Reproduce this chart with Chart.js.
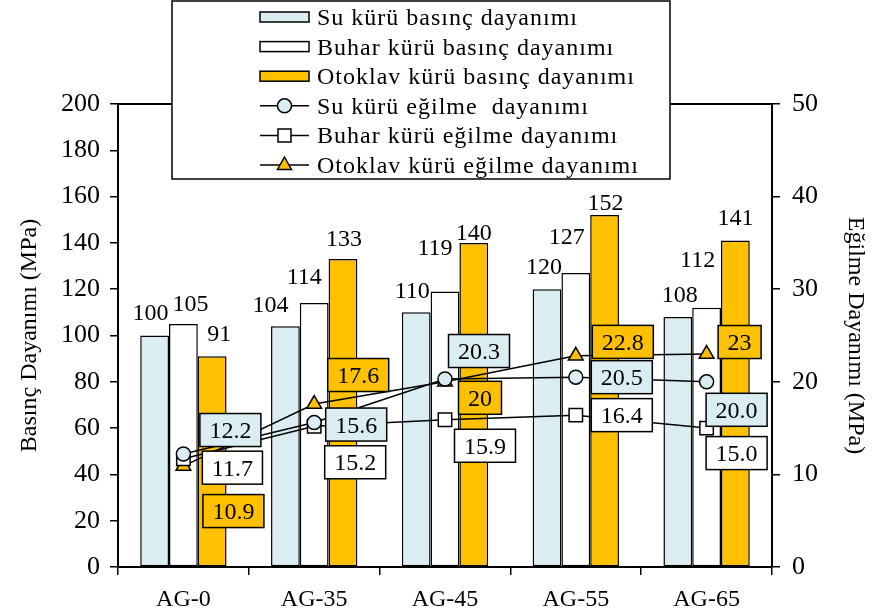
<!DOCTYPE html>
<html lang="tr">
<head>
    <meta charset="UTF-8">
    <title>Basınç ve Eğilme Dayanımı</title>
    <script src="https://cdn.jsdelivr.net/npm/chart.js"></script>
    <style>
        body {
            margin: 0;
            background: #ffffff;
        }
        .wrap {
            width: 872px;
            height: 615px;
        }
    </style>
</head>
<body>
    <div class="wrap">
        <canvas id="dayanimChart" width="872" height="615"></canvas>
    </div>

    <script>
        // values
        const categories = ['AG-0', 'AG-35', 'AG-45', 'AG-55', 'AG-65'];
        const suBasinc = [100, 104, 110, 120, 108];
        const buharBasinc = [105, 114, 119, 127, 112];
        const otoklavBasinc = [91, 133, 140, 152, 141];
        const suEgilme = [12.2, 15.6, 20.3, 20.5, 20.0];
        const buharEgilme = [11.7, 15.2, 15.9, 16.4, 15.0];
        const otoklavEgilme = [10.9, 17.6, 20, 22.8, 23];
        const basincTicks = [0, 20, 40, 60, 80, 100, 120, 140, 160, 180, 200];
        const egilmeTicks = [0, 10, 20, 30, 40, 50];

        const SERIF = '"Liberation Serif", "Times New Roman", serif';
        const BLUE = '#DAEDF3';
        const ORANGE = '#FFC000';

        // where the labels were moved to in the original (pixels from the mark)
        const barLabelShift = [
            [[-4, -24], [-15, -22], [-4, -22], [-3, -23], [2, -23]],
            [[7, -21], [-10, -27], [-10, -45], [-9, -37], [-9, -49]],
            [[7, -23], [1, -21], [0, -11], [1, -13], [0, -24]]
        ];
        const lineLabelShift = [
            [[47, -24], [42, 2], [34, -28], [46, 0], [30, 28]],
            [[49, 9], [41, 36], [40, 26], [46, 0], [30, 25]],
            [[50, 45], [44, -29], [35, 16], [47, -14], [33, -12]]
        ];

        function setTicks(list) {
            return function (scale) {
                scale.ticks = list.map(v => ({ value: v }));
            };
        }

        // draw one marker like the ones on the lines
        function marker(ctx, style, x, y, fill) {
            ctx.save();
            ctx.fillStyle = fill;
            ctx.strokeStyle = '#000';
            ctx.lineWidth = 1.5;
            ctx.beginPath();
            if (style === 'circle') {
                ctx.arc(x, y, 7, 0, Math.PI * 2);
            } else if (style === 'rect') {
                ctx.rect(x - 6.5, y - 6.5, 13, 13);
            } else {
                ctx.moveTo(x, y - 8);
                ctx.lineTo(x + 7, y + 4.5);
                ctx.lineTo(x - 7, y + 4.5);
                ctx.closePath();
            }
            ctx.fill();
            ctx.stroke();
            ctx.restore();
        }

        const labelPlugin = {
            id: 'valueLabels',
            afterDatasetsDraw(chart) {
                const ctx = chart.ctx;
                ctx.save();
                ctx.font = '24px ' + SERIF;
                ctx.textAlign = 'center';
                ctx.textBaseline = 'alphabetic';
                ctx.fillStyle = '#000';

                // bar values, plain text
                for (let d = 0; d < 3; d++) {
                    const meta = chart.getDatasetMeta(d);
                    const values = chart.data.datasets[d].data;
                    meta.data.forEach((bar, i) => {
                        const s = barLabelShift[d][i];
                        ctx.fillText(String(values[i]), bar.x + s[0], bar.y + s[1] + 8);
                    });
                }

                // line values, in boxes filled like the series
                for (let d = 3; d < 6; d++) {
                    const ds = chart.data.datasets[d];
                    const meta = chart.getDatasetMeta(d);
                    meta.data.forEach((pt, i) => {
                        const s = lineLabelShift[d - 3][i];
                        const txt = d === 5 ? String(ds.data[i]) : ds.data[i].toFixed(1);
                        const cx = pt.x + s[0], cy = pt.y + s[1];
                        const w = ctx.measureText(txt).width + 19;
                        const h = 33;
                        ctx.fillStyle = ds.boxColor;
                        ctx.fillRect(cx - w / 2, cy - h / 2, w, h);
                        ctx.strokeStyle = '#000';
                        ctx.lineWidth = 1.5;
                        ctx.strokeRect(cx - w / 2, cy - h / 2, w, h);
                        ctx.fillStyle = '#000';
                        ctx.fillText(txt, cx, cy + 8);
                    });
                }
                ctx.restore();
            },
            afterDraw(chart) {
                const ctx = chart.ctx;
                const area = chart.chartArea;
                ctx.save();

                // top edge of the plot frame
                ctx.strokeStyle = '#000';
                ctx.lineWidth = 2;
                ctx.beginPath();
                ctx.moveTo(area.left, area.top);
                ctx.lineTo(area.right, area.top);
                ctx.stroke();

                // legend box
                ctx.fillStyle = '#fff';
                ctx.fillRect(172, 1, 498, 178);
                ctx.lineWidth = 1.5;
                ctx.strokeRect(172, 1, 498, 178);

                ctx.font = '24px ' + SERIF;
                if ('letterSpacing' in ctx) ctx.letterSpacing = '1px';
                ctx.textAlign = 'left';
                ctx.textBaseline = 'alphabetic';
                chart.data.datasets.forEach((ds, i) => {
                    const cy = 17 + i * 29.6;
                    if (ds.type === 'bar') {
                        ctx.fillStyle = ds.backgroundColor;
                        ctx.fillRect(260, cy - 5, 49, 10);
                        ctx.strokeStyle = '#000';
                        ctx.lineWidth = 1.5;
                        ctx.strokeRect(260, cy - 5, 49, 10);
                    } else {
                        ctx.strokeStyle = '#000';
                        ctx.lineWidth = 1.5;
                        ctx.beginPath();
                        ctx.moveTo(260, cy);
                        ctx.lineTo(309, cy);
                        ctx.stroke();
                        marker(ctx, ds.pointStyle, 284.5, cy, ds.pointBackgroundColor);
                    }
                    ctx.fillStyle = '#000';
                    ctx.fillText(ds.label, 317, cy + 8);
                });
                ctx.restore();
            }
        };

        const barStyle = {
            type: 'bar',
            yAxisID: 'y',
            borderColor: '#000',
            borderWidth: 1.5,
            borderSkipped: false,
            categoryPercentage: 0.66,
            barPercentage: 1.0,
            order: 2
        };
        const lineStyle = {
            type: 'line',
            yAxisID: 'y1',
            borderColor: '#000',
            borderWidth: 1.5,
            pointBorderColor: '#000',
            pointBorderWidth: 1.5,
            tension: 0,
            fill: false,
            order: 1
        };

        const ctx = document.getElementById('dayanimChart').getContext('2d');
        const chart = new Chart(ctx, {
            data: {
                labels: categories,
                datasets: [
                    Object.assign({}, barStyle, { label: 'Su kürü basınç dayanımı', data: suBasinc, backgroundColor: BLUE }),
                    Object.assign({}, barStyle, { label: 'Buhar kürü basınç dayanımı', data: buharBasinc, backgroundColor: '#FFFFFF' }),
                    Object.assign({}, barStyle, { label: 'Otoklav kürü basınç dayanımı', data: otoklavBasinc, backgroundColor: ORANGE }),
                    Object.assign({}, lineStyle, { label: 'Su kürü eğilme  dayanımı', data: suEgilme, pointStyle: 'circle', pointRadius: 7, pointBackgroundColor: BLUE, boxColor: BLUE }),
                    Object.assign({}, lineStyle, { label: 'Buhar kürü eğilme dayanımı', data: buharEgilme, pointStyle: 'rect', pointRadius: 9.5, pointBackgroundColor: '#FFFFFF', boxColor: '#FFFFFF' }),
                    Object.assign({}, lineStyle, { label: 'Otoklav kürü eğilme dayanımı', data: otoklavEgilme, pointStyle: 'triangle', pointRadius: 8.5, pointBackgroundColor: ORANGE, boxColor: ORANGE })
                ]
            },
            options: {
                responsive: false,
                animation: false,
                events: [],
                layout: { padding: { top: 104, left: 0, right: 0, bottom: 0 } },
                plugins: {
                    legend: { display: false },
                    tooltip: { enabled: false }
                },
                scales: {
                    x: {
                        type: 'category',
                        grid: { drawOnChartArea: false, drawTicks: true, tickLength: 8, color: '#000', lineWidth: 1.5, offset: true },
                        border: { color: '#000', width: 2 },
                        ticks: { color: '#000', font: { family: SERIF, size: 24 }, padding: 10, maxRotation: 0 },
                        afterFit(scale) { scale.height = 48; }
                    },
                    y: {
                        position: 'left',
                        min: 0,
                        max: 200,
                        afterBuildTicks: setTicks(basincTicks),
                        grid: { drawOnChartArea: false, drawTicks: true, tickLength: 8, color: '#000', lineWidth: 1.5 },
                        border: { color: '#000', width: 2 },
                        ticks: { color: '#000', font: { family: SERIF, size: 26 }, padding: 10 },
                        title: { display: true, text: 'Basınç Dayanımı (MPa)', color: '#000', font: { family: SERIF, size: 24, lineHeight: 1 }, padding: { top: 18, bottom: 0 } },
                        afterFit(scale) { scale.width = 118; }
                    },
                    y1: {
                        position: 'right',
                        min: 0,
                        max: 50,
                        afterBuildTicks: setTicks(egilmeTicks),
                        grid: { drawOnChartArea: false, drawTicks: true, tickLength: 8, color: '#000', lineWidth: 1.5 },
                        border: { color: '#000', width: 2 },
                        ticks: { color: '#000', font: { family: SERIF, size: 26 }, padding: 12 },
                        title: { display: true, text: 'Eğilme Dayanımı (MPa)', color: '#000', font: { family: SERIF, size: 24, lineHeight: 1 }, padding: { top: 5, bottom: 0 } },
                        afterFit(scale) { scale.width = 100; }
                    }
                }
            },
            plugins: [labelPlugin]
        });
    </script>
</body>
</html>
